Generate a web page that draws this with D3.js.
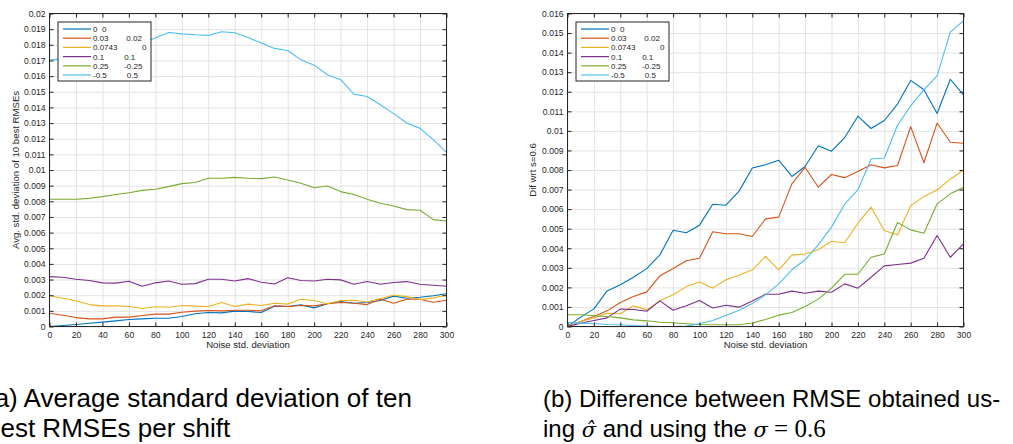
<!DOCTYPE html>
<html>
<head>
<meta charset="utf-8">
<script src="https://cdn.jsdelivr.net/npm/d3@7/dist/d3.min.js"></script>
<style>
  body { margin: 0; background: #fff; }
  svg { display: block; }
  text { font-family: "Liberation Sans", Arial, Helvetica, sans-serif; fill: #262626; }
  .caption text { fill: #000; }
</style>
</head>
<body>
<svg id="fig" width="1013" height="444"></svg>
<script>
// Noise levels (x axis) shared by both panels
const noiseLevels = [0,10,20,30,40,50,60,70,80,90,100,110,120,130,140,150,160,170,180,190,200,210,220,230,240,250,260,270,280,290,300];

// Tick values
const xTicks = [0,20,40,60,80,100,120,140,160,180,200,220,240,260,280,300];
const yTicksA = [0,0.001,0.002,0.003,0.004,0.005,0.006,0.007,0.008,0.009,0.01,0.011,0.012,0.013,0.014,0.015,0.016,0.017,0.018,0.019,0.02];
const yTicksB = [0,0.001,0.002,0.003,0.004,0.005,0.006,0.007,0.008,0.009,0.01,0.011,0.012,0.013,0.014,0.015,0.016];

// Legend entries: the shift pair of each series
const shiftLabels = ["0  0", "0.03        0.02", "0.0743           0", "0.1         0.1", "0.25       -0.25", "-0.5         0.5"];
const seriesColors = ["#0072BD", "#D95319", "#EDB120", "#7E2F8E", "#77AC30", "#4DBEEE"];

// (a) Average std. deviation of the 10 best RMSEs, one array per shift
const avgStd_0_0 = [0,0.00006,0.00013,0.00021,0.00028,0.00036,0.00045,0.00049,0.00053,0.00053,0.00064,0.00081,0.00089,0.00087,0.00098,0.00096,0.00089,0.0013,0.00128,0.00138,0.00119,0.00145,0.0016,0.00149,0.00153,0.00166,0.00194,0.00181,0.00187,0.00196,0.00209];
const avgStd_003_002 = [0.00085,0.00072,0.00057,0.00049,0.00049,0.0006,0.0006,0.0007,0.00079,0.00079,0.00091,0.00098,0.00102,0.001,0.00104,0.00104,0.001,0.00132,0.00128,0.00134,0.00132,0.00145,0.00153,0.00149,0.0014,0.00174,0.00149,0.00174,0.00174,0.00155,0.00168];
const avgStd_00743_0 = [0.00196,0.00181,0.00164,0.0014,0.00132,0.00132,0.00128,0.00115,0.00126,0.00123,0.00134,0.0013,0.00128,0.00153,0.00128,0.00143,0.00134,0.00149,0.00143,0.00174,0.00166,0.00145,0.00166,0.00168,0.00157,0.00179,0.002,0.00191,0.00172,0.00183,0.002];
const avgStd_01_01 = [0.00319,0.00315,0.00302,0.00294,0.00279,0.00277,0.00289,0.00257,0.00279,0.00291,0.0027,0.00274,0.00302,0.00302,0.00291,0.00306,0.00283,0.00272,0.00311,0.00294,0.00291,0.00302,0.00298,0.0027,0.00287,0.0027,0.00281,0.00287,0.0027,0.00264,0.00257];
const avgStd_025_m025 = [0.00813,0.00813,0.00813,0.00819,0.0083,0.00843,0.00855,0.0087,0.00877,0.00894,0.00913,0.0092,0.00947,0.00947,0.00953,0.00947,0.00945,0.00955,0.00936,0.00915,0.00887,0.00898,0.00862,0.00843,0.00813,0.00787,0.0077,0.00747,0.00743,0.00683,0.00674];
const avgStd_m05_05 = [0.01702,0.0171,0.0173,0.0175,0.0177,0.0178,0.0179,0.0181,0.01843,0.01879,0.0187,0.01864,0.0186,0.01883,0.01877,0.01847,0.01811,0.01777,0.01764,0.01704,0.0167,0.01609,0.01577,0.01485,0.0147,0.01417,0.0136,0.013,0.01266,0.01194,0.01113];

// (b) Difference between RMSE with estimated sigma and with sigma = 0.6
const dif_0_0 = [0,0.00048,0.0009,0.00182,0.00213,0.00252,0.00296,0.00366,0.00492,0.00479,0.00518,0.00625,0.0062,0.00692,0.0081,0.00827,0.0085,0.00767,0.00818,0.00924,0.00896,0.00966,0.01075,0.01012,0.01053,0.01137,0.01258,0.0121,0.01089,0.01264,0.01184];
const dif_003_002 = [0,0.00026,0.00051,0.0008,0.00123,0.00153,0.00177,0.00259,0.00296,0.00336,0.00349,0.00484,0.00474,0.00474,0.0046,0.0055,0.00559,0.00729,0.00813,0.00712,0.00777,0.00761,0.00792,0.00827,0.00811,0.00823,0.01022,0.00837,0.0104,0.00942,0.00937];
const dif_00743_0 = [0,0.00026,0.00043,0.00068,0.00065,0.00106,0.00085,0.00131,0.00162,0.00204,0.00228,0.00196,0.00239,0.00262,0.0029,0.00358,0.0029,0.00365,0.00371,0.00392,0.00436,0.00428,0.00528,0.0061,0.00491,0.00468,0.00618,0.00664,0.00698,0.00753,0.008];
const dif_01_01 = [0,0.00017,0.00031,0.00044,0.00089,0.00087,0.00078,0.00131,0.00083,0.00106,0.00133,0.00095,0.00109,0.00099,0.0013,0.00165,0.00165,0.00181,0.0017,0.00181,0.00175,0.00218,0.00196,0.00252,0.0031,0.00317,0.00324,0.00349,0.00465,0.00354,0.00422];
const dif_025_m025 = [0.0006,0.0006,0.00055,0.00051,0.00044,0.00034,0.00029,0.00022,0.00019,0.00014,0.0001,0.00009,0.00009,0.00009,0.00018,0.00036,0.00058,0.00072,0.00102,0.0014,0.00196,0.00267,0.00267,0.00354,0.00371,0.00532,0.00494,0.00477,0.00627,0.00678,0.0071];
const dif_m05_05 = [0.0002,0.00017,0.00015,0.0001,0.00009,0.00005,0.00002,0,0,0.00002,0.00014,0.00031,0.00056,0.00083,0.00117,0.00162,0.00218,0.0029,0.00341,0.00417,0.00508,0.00625,0.00698,0.00856,0.00861,0.01029,0.01128,0.0121,0.01281,0.01505,0.01564];

const seriesA = [avgStd_0_0, avgStd_003_002, avgStd_00743_0, avgStd_01_01, avgStd_025_m025, avgStd_m05_05];
const seriesB = [dif_0_0, dif_003_002, dif_00743_0, dif_01_01, dif_025_m025, dif_m05_05];

const svg = d3.select("#fig");
const fmt = d => String(+d.toFixed(3));

function drawPanel(cfg) {
  const g = svg.append("g");
  const x = d3.scaleLinear().domain([0, 300]).range([cfg.left, cfg.right]);
  const y = d3.scaleLinear().domain([0, cfg.yMax]).range([cfg.bottom, cfg.top]);
  const h = cfg.bottom - cfg.top, w = cfg.right - cfg.left;

  // grid
  const grid = g.append("g").attr("class", "grid");
  grid.append("g").attr("transform", `translate(0,${cfg.bottom})`)
    .call(d3.axisBottom(x).tickValues(xTicks).tickSize(-h).tickFormat("").tickSizeOuter(0));
  grid.append("g").attr("transform", `translate(${cfg.left},0)`)
    .call(d3.axisLeft(y).tickValues(cfg.yTicks).tickSize(-w).tickFormat("").tickSizeOuter(0));
  grid.selectAll(".domain").remove();
  grid.selectAll("line").attr("stroke", "#e3e3e3").attr("stroke-width", 1);

  // series
  const line = d3.line().x((d, i) => x(noiseLevels[i])).y(d => y(d));
  g.append("g").selectAll("path").data(cfg.series).join("path")
    .attr("d", line).attr("fill", "none")
    .attr("stroke", (d, i) => seriesColors[i]).attr("stroke-width", 1.1)
    .attr("stroke-linejoin", "round");

  // axes with inward ticks on all four sides
  const axB = g.append("g").attr("transform", `translate(0,${cfg.bottom})`)
    .call(d3.axisBottom(x).tickValues(xTicks).tickSize(-4).tickPadding(5).tickSizeOuter(0));
  const axT = g.append("g").attr("transform", `translate(0,${cfg.top})`)
    .call(d3.axisTop(x).tickValues(xTicks).tickSize(-4).tickFormat("").tickSizeOuter(0));
  const axL = g.append("g").attr("transform", `translate(${cfg.left},0)`)
    .call(d3.axisLeft(y).tickValues(cfg.yTicks).tickSize(-4).tickPadding(4).tickFormat(fmt).tickSizeOuter(0));
  const axR = g.append("g").attr("transform", `translate(${cfg.right},0)`)
    .call(d3.axisRight(y).tickValues(cfg.yTicks).tickSize(-4).tickFormat("").tickSizeOuter(0));
  [axB, axT, axL, axR].forEach(a => {
    a.select(".domain").remove();
    a.selectAll("line").attr("stroke", "#262626");
    a.selectAll("text").attr("fill", "#262626").style("font-size", "8.6px")
      .style("font-family", '"Liberation Sans", Arial, sans-serif');
  });

  g.append("rect").attr("x", cfg.left).attr("y", cfg.top).attr("width", w).attr("height", h)
    .attr("fill", "none").attr("stroke", "#262626").attr("stroke-width", 1);

  // axis labels
  g.append("text").attr("x", (cfg.left + cfg.right) / 2).attr("y", 348)
    .attr("text-anchor", "middle").style("font-size", "9.6px").text("Noise std. deviation");
  g.append("text").attr("transform", `translate(${cfg.yLabelX},${(cfg.top + cfg.bottom) / 2}) rotate(-90)`)
    .attr("text-anchor", "middle").style("font-size", "9.6px").text(cfg.yLabel);

  // legend
  const lg = g.append("g").attr("transform", `translate(${cfg.left + cfg.legendDx},${cfg.top + 8.5})`);
  lg.append("rect").attr("x", 0).attr("y", 0).attr("width", 93).attr("height", 59)
    .attr("fill", "#fff").attr("stroke", "#262626").attr("stroke-width", 1);
  const rows = lg.selectAll("g.row").data(shiftLabels).join("g").attr("class", "row")
    .attr("transform", (d, i) => `translate(0,${7 + i * 9.2})`);
  rows.append("line").attr("x1", 5).attr("x2", 33).attr("y1", 0).attr("y2", 0)
    .attr("stroke", (d, i) => seriesColors[i]).attr("stroke-width", 1.2);
  rows.append("text").attr("x", 35).attr("y", 2.9).style("font-size", "8px")
    .style("white-space", "pre").attr("xml:space", "preserve").text(d => d);
}

drawPanel({ left: 49.5, right: 446.5, top: 13.5, bottom: 326.5, yMax: 0.02, yTicks: yTicksA,
  series: seriesA, yLabel: "Avg. std. deviation of 10 best RMSEs", yLabelX: 19.3, legendDx: 8.5 });
drawPanel({ left: 567.5, right: 963.5, top: 13.5, bottom: 326.5, yMax: 0.016, yTicks: yTicksB,
  series: seriesB, yLabel: "Dif wrt s=0.6", yLabelX: 536, legendDx: 8.5 });

// Sub-figure captions
const cap = svg.append("g").attr("class", "caption");
cap.append("text").attr("x", -14).attr("y", 407).style("font-size", "26px")
  .text("(a) Average standard deviation of ten");
cap.append("text").attr("x", -14).attr("y", 437).style("font-size", "26px")
  .text("best RMSEs per shift");
cap.append("text").attr("x", 543).attr("y", 407).style("font-size", "24px")
  .text("(b) Difference between RMSE obtained us-");

// second line of (b), mixing text and math, laid out piece after piece
const serif = '"Liberation Serif", "DejaVu Serif", serif';
const mathItalic = '"DejaVu Serif", "Liberation Serif", serif';
const sans = '"Liberation Sans", Arial, sans-serif';
const pieces = [
  { t: "ing ", f: sans, s: 24, st: "normal" },
  { t: "σ\u0302", f: mathItalic, s: 21, st: "italic" },
  { t: " and using the ", f: sans, s: 24, st: "normal" },
  { t: "σ", f: mathItalic, s: 21, st: "italic" },
  { t: " = ", f: serif, s: 25, st: "normal" },
  { t: "0.6", f: serif, s: 25, st: "normal" }
];
let cx = 543;
pieces.forEach(p => {
  const t = cap.append("text").attr("x", cx).attr("y", 437)
    .attr("xml:space", "preserve").style("white-space", "pre")
    .style("font-family", p.f).style("font-size", p.s + "px").style("font-style", p.st)
    .text(p.t);
  cx += t.node().getComputedTextLength();
});
</script>
</body>
</html>
